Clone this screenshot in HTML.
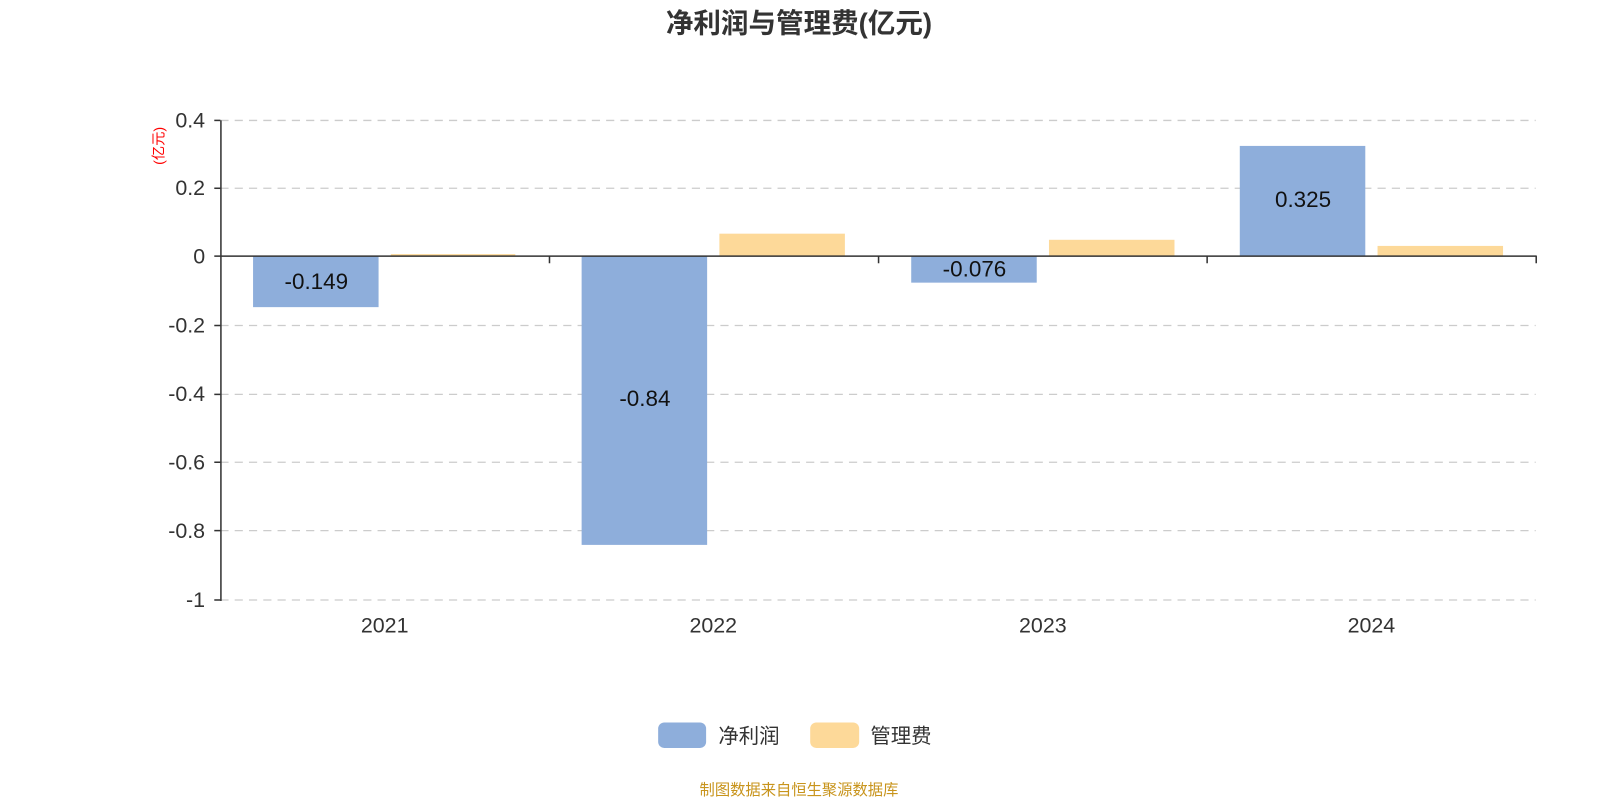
<!DOCTYPE html>
<html><head><meta charset="utf-8"><style>
html,body{margin:0;padding:0;background:#fff;}
svg{display:block;font-family:"Liberation Sans","Noto Sans CJK SC",sans-serif;}
</style></head><body>
<svg width="1600" height="800" xmlns="http://www.w3.org/2000/svg">
<g transform="scale(1.0204)">
<text x="783" y="32" text-anchor="middle" font-size="27" font-weight="bold" fill="#333">净利润与管理费(亿元)</text>
<g stroke="#ccc" stroke-dasharray="8,6" stroke-width="1.3">
<line x1="216" x2="1505" y1="118" y2="118"/><line x1="216" x2="1505" y1="184.5" y2="184.5"/>
<line x1="216" x2="1505" y1="319" y2="319"/><line x1="216" x2="1505" y1="386.5" y2="386.5"/>
<line x1="216" x2="1505" y1="453" y2="453"/><line x1="216" x2="1505" y1="520" y2="520"/>
<line x1="216" x2="1505" y1="588" y2="588"/>
</g>
<g fill="#8eaedb">
<rect x="248" y="251" width="123" height="50"/>
<rect x="570" y="251" width="123" height="283"/>
<rect x="893" y="251" width="123" height="26"/>
<rect x="1215" y="143" width="123" height="108"/>
</g>
<g fill="#fdd999">
<rect x="383" y="249" width="122" height="2"/>
<rect x="705" y="229" width="123" height="22"/>
<rect x="1028" y="235" width="123" height="16"/>
<rect x="1350" y="241" width="123" height="10"/>
</g>
<g stroke="#333" stroke-width="1.5" fill="none">
<line x1="216.5" y1="118" x2="216.5" y2="589"/>
<line x1="210" y1="118" x2="216" y2="118"/><line x1="210" y1="184.5" x2="216" y2="184.5"/>
<line x1="210" y1="251" x2="216" y2="251"/><line x1="210" y1="319" x2="216" y2="319"/>
<line x1="210" y1="386.5" x2="216" y2="386.5"/><line x1="210" y1="453" x2="216" y2="453"/>
<line x1="210" y1="520" x2="216" y2="520"/><line x1="210" y1="588" x2="216" y2="588"/>
<line x1="216" y1="251" x2="1506" y2="251"/>
<line x1="538.5" y1="251" x2="538.5" y2="258"/><line x1="861" y1="251" x2="861" y2="258"/>
<line x1="1183" y1="251" x2="1183" y2="258"/><line x1="1505.5" y1="251" x2="1505.5" y2="258"/>
</g>
<g font-size="21" fill="#333" text-anchor="end">
<text x="201" y="125">0.4</text><text x="201" y="191">0.2</text><text x="201" y="258">0</text>
<text x="201" y="326">-0.2</text><text x="201" y="393">-0.4</text><text x="201" y="460">-0.6</text>
<text x="201" y="527">-0.8</text><text x="201" y="595">-1</text>
</g>
<text transform="translate(160,143) rotate(-90)" text-anchor="middle" font-size="14" fill="#f00">(亿元)</text>
<g font-size="21" fill="#333" text-anchor="middle">
<text x="377" y="620">2021</text><text x="699" y="620">2022</text>
<text x="1022" y="620">2023</text><text x="1344" y="620">2024</text>
</g>
<g font-size="22" fill="#111" text-anchor="middle">
<text x="310" y="283">-0.149</text><text x="632" y="398">-0.84</text>
<text x="955" y="271">-0.076</text><text x="1277" y="203">0.325</text>
</g>
<rect x="645" y="708" width="47" height="25" rx="6" fill="#8eaedb"/>
<text x="704" y="728" font-size="20" fill="#333">净利润</text>
<rect x="794" y="708" width="48" height="25" rx="6" fill="#fdd999"/>
<text x="853" y="728" font-size="20" fill="#333">管理费</text>
<text x="783" y="779" text-anchor="middle" font-size="15" fill="#c8941c">制图数据来自恒生聚源数据库</text>
</g>
</svg>
</body></html>
